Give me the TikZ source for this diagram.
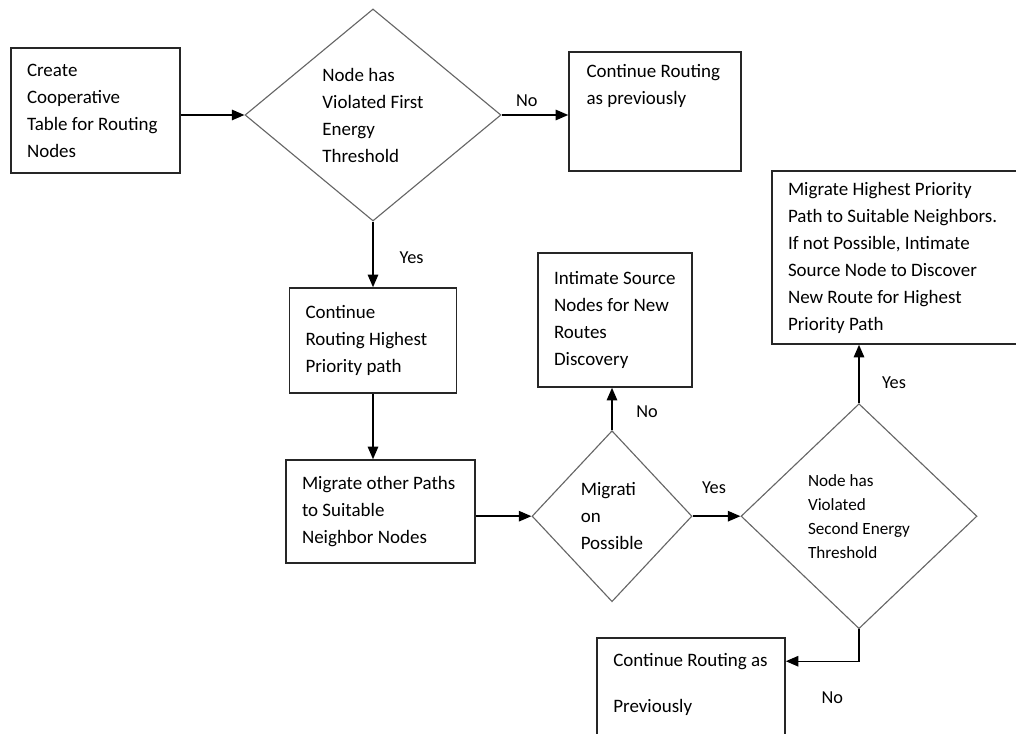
\documentclass[tikz,border=0pt]{standalone}
\usepackage{fontspec}
\setmainfont{Carlito}
\usetikzlibrary{arrows.meta,shapes.geometric,calc}

\begin{document}
\begin{tikzpicture}[
  box/.style={draw=black!85,line width=1.1pt,inner xsep=0.4cm,align=flush left,
              font=\fontsize{13.5}{19.2}\selectfont},
  frame/.style={draw=black!85,line width=1.1pt,inner sep=0pt},
  txt/.style={inner sep=0pt,align=flush left,font=\fontsize{13.5}{19.2}\selectfont},
  decision/.style={diamond,draw=black!60,line width=0.8pt,inner sep=0pt,align=flush left,
              font=\fontsize{13.5}{19.2}\selectfont},
  lbl/.style={inner sep=0pt,font=\fontsize{13}{15}\selectfont},
  arr/.style={-{Triangle[length=9pt,width=7.5pt]},line width=1pt}
]
\clip (0,0) rectangle (25.4,18.325);

%--- Top row: table and first threshold ---
\node[box,text width=3.425cm,minimum height=3.125cm] (create) at (2.3875,15.5625)
  {Create\\Cooperative\\Table~for~Routing\\Nodes};
\node[decision,minimum width=6.4cm,minimum height=5.3cm] (first) at (9.325,15.45)
  {Node has\\Violated First\\Energy\\Threshold};
\node[frame,minimum width=4.3cm,minimum height=2.975cm] (prevA) at (16.375,15.5375) {};
\node[txt,anchor=north west] (prevAtext) at ($(prevA.north west)+(0.45,-0.31)$)
  {Continue Routing\\as previously};

%--- Left column ---
\node[box,text width=3.375cm,minimum height=2.625cm] (highest) at (9.325,9.8125)
  {Continue\\Routing Highest\\Priority path};
\node[box,text width=3.925cm,minimum height=2.575cm] (others) at (9.5125,5.5375)
  {Migrate~other~Paths\\to Suitable\\Neighbor Nodes};

%--- Migration check ---
\node[decision,minimum width=4.0cm,minimum height=4.275cm] (mig) at (15.3,5.42)
  {Migrati\\on\\Possible};
\node[box,text width=3.05cm,minimum height=3.35cm] (intimate) at (15.375,10.325)
  {Intimate~Source\\Nodes for New\\Routes\\Discovery};

%--- Second threshold ---
\node[decision,minimum width=5.9cm,minimum height=5.625cm,
      font=\fontsize{12.2}{17.1}\selectfont] (second) at (21.475,5.42)
  {Node has\\Violated\\Second Energy\\Threshold};
\node[box,text width=5.775cm,minimum height=4.325cm] (highprio) at (22.5875,11.8875)
  {Migrate Highest Priority\\Path to Suitable Neighbors.\\If not Possible, Intimate\\
   Source Node to Discover\\New Route for Highest\\Priority Path};
\node[frame,minimum width=4.7cm,minimum height=3.05cm] (prevB) at (17.275,0.85) {};
\node[txt,anchor=north west] (prevBtext) at ($(prevB.north west)+(0.42,-0.39)$)
  {Continue Routing as\\[13.5pt]Previously};

%--- Connectors ---
\draw[arr] (create.east |- first) -- (first.west);
\draw[arr] (first.east) -- (first.east -| prevA.west);
\draw[arr] (first.south) -- (first.south |- highest.north);
\draw[arr] (highest.south) -- (highest.south |- others.north);
\draw[arr] (others.east |- mig) -- (mig.west);
\draw[arr] (mig.north) -- (mig.north |- intimate.south);
\draw[arr] (mig.east) -- (second.west);
\draw[arr] (second.north) -- (second.north |- highprio.south);
\draw[arr] (second.south) |- ([yshift=-0.6cm]prevB.north east);

% labels
\node[lbl] (noA)  at (13.17,15.8125) {No};
\node[lbl] (yesA) at (10.29,11.8875) {Yes};
\node[lbl] (noB)  at (16.175,8.025)  {No};
\node[lbl] (yesB) at (17.85,6.1375)  {Yes};
\node[lbl] (yesC) at (22.35,8.7625)  {Yes};
\node[lbl] (noC)  at (20.81,0.875)   {No};
\end{tikzpicture}
\end{document}
